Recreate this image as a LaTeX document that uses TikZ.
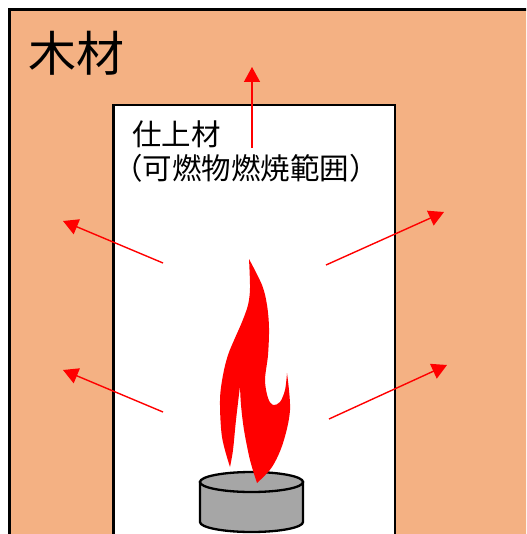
\documentclass[tikz,border=0pt]{standalone}
\usepackage{fontspec}
\newfontfamily\jpfont{Noto Sans CJK JP}
\usetikzlibrary{arrows.meta}
\definecolor{woodfill}{HTML}{F4B183}
\definecolor{burnergray}{HTML}{A6A6A6}
\begin{document}
\begin{tikzpicture}[x=1pt,y=-1pt,
  heat/.style={draw=red, line width=1.4pt, -{Triangle[width=16pt,length=15pt]}},
  label/.style={inner sep=0pt, anchor=base west, font=\jpfont},
  wall/.style={draw=black, line width=2.8pt}]
\useasboundingbox (0,0) rectangle (526,534);
\begin{scope}
\clip (0,0) rectangle (526,534);
% wooden backing and the finish layer in front of it
\path[wall, fill=woodfill] (9.5,9.5) rectangle (560,560);
\path[wall, fill=white] (113.5,105) rectangle (395,560);
\node[label, font=\jpfont\fontsize{48}{48}\selectfont] (wood) at (28,72) {木材};
\node[label, font=\jpfont\fontsize{29.5}{29.5}\selectfont] (fin1) at (132,146) {仕上材};
\node[label, font=\jpfont\fontsize{29.5}{29.5}\selectfont] (fin2) at (113,180) {（可燃物燃焼範囲）};
% heat arrows
\coordinate (u0) at (252,148); \coordinate (u1) at (252,67);
\coordinate (l0) at (163,263); \coordinate (l1) at (63,221);
\coordinate (l2) at (163,412); \coordinate (l3) at (63,370);
\coordinate (r0) at (326,265); \coordinate (r1) at (444,212);
\coordinate (r2) at (329,419); \coordinate (r3) at (447,365);
\draw[heat] (u0) -- (u1);
\draw[heat] (l0) -- (l1);
\draw[heat] (l2) -- (l3);
\draw[heat] (r0) -- (r1);
\draw[heat] (r2) -- (r3);
% burner
\path[draw=black, line width=2.3pt, fill=burnergray]
  (200,482) -- (200,522) arc[start angle=180, end angle=360, x radius=51.5pt, y radius=10pt]
  -- (303,482) -- cycle;
\path[draw=black, line width=2.3pt, fill=burnergray]
  (251.5,482) ellipse[x radius=51.5pt, y radius=10pt];
% flame
\fill[red]
  plot[smooth, tension=0.55] coordinates {(249,259) (262,285) (267,305) (269,328) (268,355) (265,380) (268,398) (273,405) (280,402) (285,390) (287,373)}
  -- plot[smooth, tension=0.55] coordinates {(287,373) (290,410) (283,443) (272,467) (257,483)}
  -- plot[smooth, tension=0.55] coordinates {(257,483) (250,460) (244,430) (241,405) (240,386)}
  -- plot[smooth, tension=0.55] coordinates {(240,386) (236,420) (233,450) (230,467)}
  -- plot[smooth, tension=0.55] coordinates {(230,467) (222,437) (220,400) (223,375) (228,355) (235,338) (242,322) (248,305) (250,288) (249,259)}
  -- cycle;
\end{scope}
\end{tikzpicture}
\end{document}
